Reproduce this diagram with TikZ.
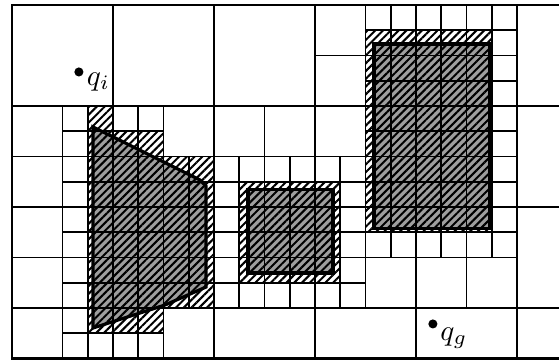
\documentclass[tikz,border=0pt]{standalone}
\usetikzlibrary{patterns.meta}
\tikzset{
  cell/.style={draw=black, line width=1.9pt},
  obst/.style={fill=black!38},
  hatch/.style={pattern={Lines[angle=45,distance=6.2pt,line width=2.3pt]}},
  obline/.style={draw=black, line width=3.6pt, line join=miter},
  frame/.style={draw=black, line width=3pt},
  pt/.style={circle, fill=black, inner sep=0pt, minimum size=0.36cm},
  lab/.style={scale=3.3, inner sep=0pt}
}
\begin{document}
\begin{tikzpicture}[x=1cm,y=-1cm]
\useasboundingbox (-0.475,-0.2) rectangle (21.665,14.02);
\clip (-0.475,-0.2) rectangle (21.665,14.02);
% obstacles (gray)
\fill[obst] (3.21,4.83) -- (7.45,6.93) -- (7.68,7.17) -- (7.68,11.17) -- (6.06,11.88) -- (3.21,12.79) -- cycle;
\fill[obst] (9.35,7.29) rectangle (12.71,10.61);
\fill[obst] (14.34,1.54) rectangle (18.93,8.84);
% hatched occupied cells
\fill[hatch] (3,4) -- (4,4) -- (4,5) -- (6,5) -- (6,6) -- (8,6) -- (8,12) -- (6,12) -- (6,13) -- (3,13) -- cycle;
\fill[hatch] (9,7) rectangle (13,11);
\fill[hatch] (14,1) rectangle (19,9);
% larger cells
\foreach \a/\b/\c/\d in {0/0/4/4, 4/0/8/4, 8/0/12/4, 12/0/14/2, 12/2/14/4, 20/0/24/4,
  0/4/2/6, 6/4/8/6, 8/4/10/6, 10/4/12/6, 12/4/14/6, 20/4/24/8,
  0/6/2/8, 0/8/2/10, 0/10/2/12, 0/12/2/14,
  14/10/16/12, 16/10/18/12, 18/10/20/12, 20/8/24/12,
  6/12/8/14, 8/12/12/14, 12/12/16/14, 16/12/20/14, 20/12/24/14}
  \draw[cell] (\a,\b) rectangle (\c,\d);
% small cells
\foreach \i in {2,...,5} \foreach \j in {4,...,13} \draw[cell] (\i,\j) rectangle ++(1,1);
\foreach \i in {6,...,13} \foreach \j in {6,...,11} \draw[cell] (\i,\j) rectangle ++(1,1);
\foreach \i in {14,...,19} \foreach \j in {0,...,9} \draw[cell] (\i,\j) rectangle ++(1,1);
% obstacle outlines
\draw[obline] (3.21,4.83) -- (7.45,6.93) -- (7.68,7.17) -- (7.68,11.17) -- (6.06,11.88) -- (3.21,12.79) -- cycle;
\draw[obline] (9.35,7.29) rectangle (12.71,10.61);
\draw[obline] (14.34,1.54) rectangle (18.93,8.84);
% frame
\draw[frame] (24,0) -- (0,0) -- (0,14) -- (24,14);
% start and goal
\node[pt] (qi) at (2.65,2.65) {};
\node[lab] (qilab) at (3.42,3.05) {$q_i$};
\node[pt] (qg) at (16.67,12.63) {};
\node[lab] (qglab) at (17.5,13.19) {$q_g$};
\end{tikzpicture}
\end{document}
